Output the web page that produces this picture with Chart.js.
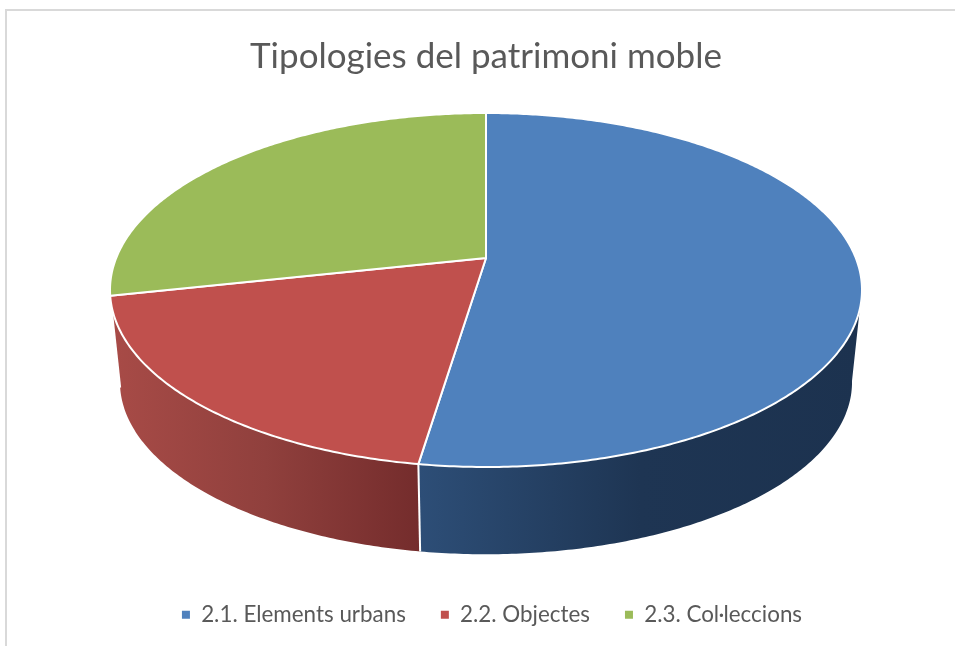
<!DOCTYPE html>
<html>
<head>
<meta charset="utf-8">
<script src="https://cdn.jsdelivr.net/npm/chart.js@4"></script>
<style>
	html, body { margin: 0; padding: 0; background: #fff; overflow: hidden; }
	#frame { position: fixed; left: 5px; top: 9px; right: -10px; bottom: -10px; border-left: 2px solid #d9d9d9; border-top: 2px solid #d9d9d9; }
	#chart { position: absolute; left: 0; top: 0; }
</style>
</head>
<body>
<div id="frame"></div>
<canvas id="chart" width="955" height="646"></canvas>
<script>
const titleText = 'Tipologies del patrimoni moble';
const categories = ['2.1. Elements urbans', '2.2. Objectes', '2.3. Col·leccions'];
const shares = [52.4, 19.2, 28.4];
const topColors = ['#4f81bd', '#c0504d', '#9bbb59'];
const sideColors = [
	[[0, '#2d4e77'], [0.5, '#1e3553'], [1, '#1c324f']],
	[[0, '#a84b47'], [0.5, '#90403d'], [1, '#742c2c']],
	null,
];

// perspective of the disc: k is the tilt, the rest are pixel sizes on screen
const k = 0.1808;
const topRim = { apexY: 258, sx: 369.8, sy: 171.2 };
const bottomRim = { apexY: 351, sx: 360, sy: 166.5 };
const frontFrom = (100 * Math.PI) / 180;
const frontTo = (258 * Math.PI) / 180;

const project = (rim, cx, a, r = 1) => {
	// a is the clockwise angle from the top of the pie
	const u = Math.sin(a) * r;
	const v = -Math.cos(a) * r;
	const w = 1 - k * v;
	return { x: cx + (rim.sx * u) / w, y: rim.apexY + (rim.sy * v) / w };
};

const rimPoints = (rim, cx, from, to) => {
	const steps = Math.max(2, Math.ceil((to - from) / 0.01));
	const points = [];
	for (let i = 0; i <= steps; i++) {
		points.push(project(rim, cx, from + ((to - from) * i) / steps));
	}
	return points;
};

const tracePoints = (ctx, points) => {
	points.forEach((p, i) => (i ? ctx.lineTo(p.x, p.y) : ctx.moveTo(p.x, p.y)));
};

const tiltedPie = {
	id: 'tiltedPie',
	afterLayout(chart) {
		// the legend row sits a little right of the title in the original
		chart.legend.left += 6;
		chart.legend.right += 6;
	},
	beforeDatasetDraw(chart) {
		const ctx = chart.ctx;
		const arcs = chart.getDatasetMeta(0).data;
		const cx = arcs[0].x;
		const angles = arcs.map((arc) => [arc.startAngle + Math.PI / 2, arc.endAngle + Math.PI / 2]);

		ctx.save();
		ctx.lineJoin = 'round';

		// side wall, only the part facing the viewer
		angles.forEach(([start, end], i) => {
			const from = Math.max(start, frontFrom);
			const to = Math.min(end, frontTo);
			if (!sideColors[i] || to <= from) return;
			const upper = rimPoints(topRim, cx, from, to);
			const lower = rimPoints(bottomRim, cx, from, to).reverse();
			const xs = upper.concat(lower).map((p) => p.x);
			const gradient = ctx.createLinearGradient(Math.min(...xs), 0, Math.max(...xs), 0);
			sideColors[i].forEach(([stop, color]) => gradient.addColorStop(stop, color));
			ctx.beginPath();
			tracePoints(ctx, upper.concat(lower));
			ctx.closePath();
			ctx.fillStyle = gradient;
			ctx.fill();
		});

		// white edge where two slices meet on the wall
		angles.forEach(([start]) => {
			if (start <= frontFrom || start >= frontTo) return;
			const a = project(topRim, cx, start);
			const b = project(bottomRim, cx, start);
			ctx.beginPath();
			ctx.moveTo(a.x, a.y);
			ctx.lineTo(b.x, b.y);
			ctx.strokeStyle = '#fff';
			ctx.lineWidth = 2;
			ctx.stroke();
		});

		// top faces
		angles.forEach(([start, end], i) => {
			const apex = { x: cx, y: topRim.apexY };
			ctx.beginPath();
			tracePoints(ctx, [apex].concat(rimPoints(topRim, cx, start, end)));
			ctx.closePath();
			ctx.fillStyle = topColors[i];
			ctx.fill();
			ctx.strokeStyle = '#fff';
			ctx.lineWidth = 2;
			ctx.stroke();
		});

		ctx.restore();
		return false;
	},
};

new Chart(document.getElementById('chart'), {
	type: 'pie',
	data: {
		labels: categories,
		datasets: [{ data: shares, backgroundColor: topColors, borderWidth: 0 }],
	},
	plugins: [tiltedPie],
	options: {
		responsive: false,
		animation: false,
		layout: { padding: { left: 17, bottom: 10 } },
		plugins: {
			tooltip: { enabled: false },
			title: {
				display: true,
				text: titleText,
				color: '#595959',
				font: { family: 'Lato', size: 35, weight: 'normal' },
				padding: { top: 36, bottom: 10 },
			},
			legend: {
				display: true,
				position: 'bottom',
				labels: {
					color: '#595959',
					font: { family: 'Lato', size: 22.4 },
					boxWidth: 8,
					boxHeight: 8,
					padding: 35,
				},
			},
		},
	},
});
</script>
</body>
</html>
